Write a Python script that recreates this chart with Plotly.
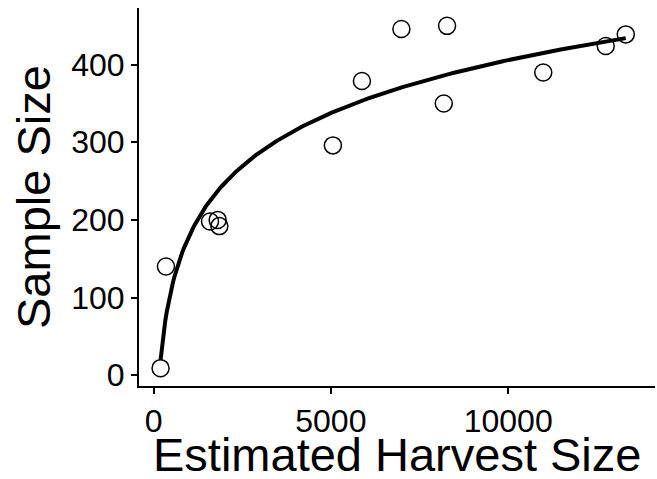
import numpy as np
import plotly.graph_objects as go

harvest = [198, 350, 1593, 1808, 1856, 5057, 5876, 6989, 8277, 8184, 10989, 12751, 13316]
sample = [9, 140, 198, 200, 192, 296, 379, 446, 450, 350, 390, 424, 439]

x_ticks = [0, 5000, 10000]
x_tick_labels = ["0", "5000", "10000"]
y_ticks = [0, 100, 200, 300, 400]
y_tick_labels = ["0", "100", "200", "300", "400"]

# logarithmic fit: sample ~ a + b*ln(harvest)
b, a = np.polyfit(np.log(harvest), sample, 1)
xf = np.linspace(min(harvest), max(harvest), 300)
yf = a + b * np.log(xf)

fig = go.Figure()
fig.add_trace(go.Scatter(x=xf, y=yf, mode="lines",
                         line=dict(color="black", width=4), hoverinfo="skip"))
fig.add_trace(go.Scatter(x=harvest, y=sample, mode="markers",
                         marker=dict(symbol="circle-open", size=17,
                                     color="black", line=dict(width=1.5))))

font = "Liberation Sans, Arial, sans-serif"
W, H = 657, 479
L, R, T, B = 139, 2, 8, 93
pw, ph = W - L - R, H - T - B

fig.update_layout(
    width=W, height=H,
    margin=dict(l=L, r=R, t=T, b=B, autoexpand=False),
    plot_bgcolor="white", paper_bgcolor="white",
    showlegend=False,
    font=dict(family=font, color="black"),
    xaxis=dict(range=[-410, 14140], tickvals=x_ticks, ticktext=x_tick_labels,
               ticks="outside", automargin=False,
               ticklen=6, tickwidth=2, tickcolor="black",
               showline=True, linecolor="black", linewidth=2,
               showgrid=False, zeroline=False,
               tickfont=dict(size=32, color="black")),
    yaxis=dict(range=[-14, 473], tickvals=y_ticks, ticktext=y_tick_labels,
               ticks="outside", automargin=False,
               ticklen=6, tickwidth=2, tickcolor="black",
               showline=True, linecolor="black", linewidth=2,
               showgrid=False, zeroline=False,
               tickfont=dict(size=32, color="black")),
    annotations=[
        dict(text="Estimated Harvest Size", xref="paper", yref="paper",
             x=(396.5 - L) / pw, y=(H - B - 454) / ph,
             xanchor="center", yanchor="middle", showarrow=False,
             font=dict(size=47, color="black")),
        dict(text="Sample Size", xref="paper", yref="paper",
             x=(33 - L) / pw, y=0.5, textangle=-90,
             xanchor="center", yanchor="middle", showarrow=False,
             font=dict(size=47, color="black")),
    ],
)
fig.write_html("out.html", config={"displayModeBar": False},
               post_script="document.body.style.margin='0';document.body.style.padding='0';")
